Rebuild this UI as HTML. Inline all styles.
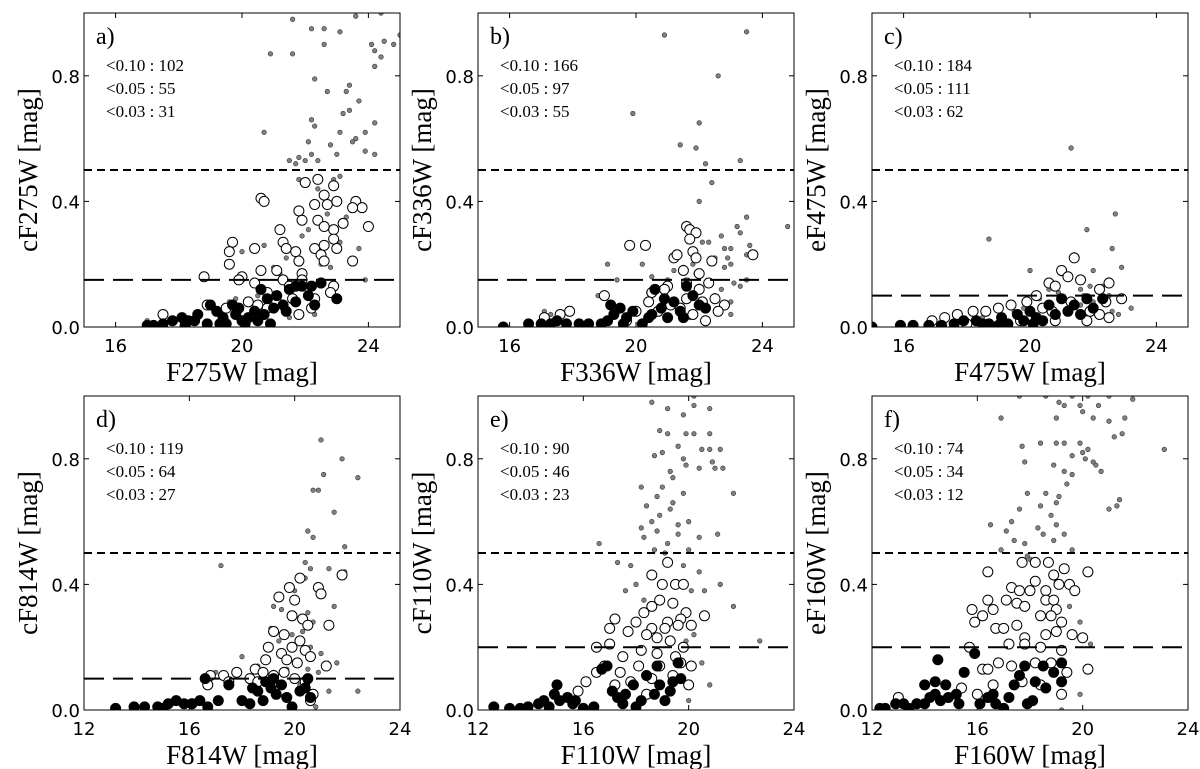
<!DOCTYPE html>
<html><head><meta charset="utf-8"><style>
html,body{margin:0;padding:0;background:#fff}
svg{display:block}
text{font-family:"Liberation Serif",serif;fill:#000}
.tk{font-family:"DejaVu Sans","Liberation Sans",sans-serif;font-size:18px}
.ttl{font-family:"Liberation Serif",serif;font-size:27px}
</style></head><body>
<svg id="fig" width="1200" height="769" viewBox="0 0 1200 769" xmlns="http://www.w3.org/2000/svg"></svg>
<script>
// ---------- data ----------
const panelLetters = ["a)","b)","c)","d)","e)","f)"];
const xLabels = ["F275W [mag]","F336W [mag]","F475W [mag]","F814W [mag]","F110W [mag]","F160W [mag]"];
const yLabels = ["cF275W [mag]","cF336W [mag]","eF475W [mag]","cF814W [mag]","cF110W [mag]","eF160W [mag]"];
const statsA = ["<0.10 : 102","<0.05 : 55","<0.03 : 31"];
const statsB = ["<0.10 : 166","<0.05 : 97","<0.03 : 55"];
const statsC = ["<0.10 : 184","<0.05 : 111","<0.03 : 62"];
const statsD = ["<0.10 : 119","<0.05 : 64","<0.03 : 27"];
const statsE = ["<0.10 : 90","<0.05 : 46","<0.03 : 23"];
const statsF = ["<0.10 : 74","<0.05 : 34","<0.03 : 12"];
const xRangeTop = [15,25];
const xRangeBottom = [12,24];
const yRange = [0,1];
const xTicksTop = [16,20,24];
const xTicksBottom = [12,16,20,24];
const yTicks = [0.0,0.4,0.8];
const upperCut = [0.5,0.5,0.5,0.5,0.5,0.5];
const lowerCut = [0.15,0.15,0.1,0.1,0.2,0.2];

const greyA=[[21.6,.98],[22.2,.95],[22.6,.95],[23.1,.94],[23.6,.99],[24.4,1.0],[25,.93],[24.1,.9],[24.2,.88],[24.5,.91],[24.8,.9],[22.6,.9],[20.9,.87],[21.6,.87],[24.4,.86],[24.2,.83],[22.3,.79],[23.4,.77],[23.3,.75],[22.7,.75],[23.7,.72],[20.7,.62],[22.2,.66],[22.3,.64],[23.2,.68],[23.4,.69],[24.2,.65],[23.9,.62],[22.1,.59],[23.1,.62],[23.6,.6],[23.5,.59],[22.8,.58],[23.9,.56],[24.2,.55],[22.2,.55],[21.5,.53],[21.8,.54],[22.0,.53],[22.4,.53],[23.0,.55],[21.7,.52],[21.8,.47],[22.9,.47],[23.1,.48],[22.4,.44],[22.7,.36],[23.3,.35],[21.9,.29],[22.1,.31],[20.0,.24],[20.7,.26],[21.3,.26],[21.4,.22],[22.3,.25],[23.1,.27],[23.7,.25],[21.8,.2],[22.8,.19],[23.9,.15],[19.8,.09],[19.6,.08],[20.5,.1],[21.2,.17],[22.3,.04],[21.5,.03],[20.6,.05],[17,.02],[22.5,.2],[21.0,.19]];
const openA=[[20.6,.41],[20.7,.4],[21.8,.37],[22.0,.46],[22.4,.47],[22.9,.45],[22.6,.42],[22.7,.39],[23.0,.40],[23.6,.40],[23.8,.38],[22.3,.39],[21.9,.34],[22.4,.34],[22.9,.31],[22.6,.32],[23.2,.33],[23.5,.38],[24.0,.32],[21.2,.31],[19.7,.27],[19.6,.24],[19.6,.2],[20.4,.25],[21.3,.27],[21.4,.25],[21.7,.24],[21.8,.21],[22.3,.25],[22.5,.23],[22.6,.26],[22.9,.28],[23.0,.25],[22.6,.21],[23.5,.21],[21.9,.17],[21.1,.18],[20.6,.18],[20.0,.16],[19.9,.15],[18.8,.16],[17.5,.04],[22.9,.13],[22.8,.11],[22.3,.09],[22.2,.06],[21.8,.04],[20.2,.08],[20.8,.11],[21.3,.15],[21.5,.13],[20.4,.14],[21.9,.15],[22.5,.14],[20.5,.07],[21.1,.08],[19.5,.06],[18.9,.07],[20.8,.06],[21.6,.09]];
const filledA=[[17.0,.005],[17.5,.01],[17.8,.02],[18.1,.03],[18.3,.02],[18.6,.04],[18.9,.01],[19.0,.07],[19.2,.05],[19.4,.03],[19.5,.01],[19.7,.07],[19.8,.04],[20.0,.02],[20.2,.03],[20.4,.05],[20.5,.02],[20.6,.12],[20.8,.09],[21.0,.06],[21.1,.1],[21.3,.07],[21.5,.12],[21.7,.08],[21.9,.13],[22.1,.1],[22.3,.07],[22.5,.14],[23.0,.09],[20.9,.01],[20.1,.01],[18.2,.005],[19.3,.01],[21.7,.13],[22.2,.13],[20.7,.04],[21.4,.05],[18.5,.02],[19.9,.06],[17.2,.005]];

const greyB=[[20.9,.93],[23.5,.94],[22.6,.80],[19.9,.68],[22.0,.65],[21.4,.58],[21.9,.57],[23.3,.53],[22.2,.52],[22.4,.46],[22.0,.40],[23.5,.35],[24.8,.32],[23.2,.32],[21.6,.33],[22.7,.29],[23.3,.30],[22.1,.27],[22.3,.27],[22.8,.25],[23.0,.25],[23.6,.26],[23.5,.23],[22.5,.22],[22.9,.22],[23.0,.2],[21.8,.2],[19.1,.2],[20.2,.2],[21.2,.18],[21.5,.19],[21.9,.17],[22.8,.19],[23.1,.14],[23.5,.15],[23.3,.13],[19.4,.15],[20.5,.16],[20.4,.11],[22.0,.13],[22.5,.1],[23.0,.08],[23.0,.04],[18.8,.1],[20.8,.09],[17.3,.04],[17.1,.05],[21.7,.03],[22.2,.06],[22.7,.12],[21.0,.15]];
const openB=[[19.8,.26],[20.3,.26],[21.2,.22],[21.6,.32],[21.7,.31],[21.9,.30],[21.7,.28],[21.8,.24],[21.3,.23],[21.9,.22],[22.4,.21],[23.7,.23],[21.5,.18],[22.0,.17],[21.0,.13],[20.5,.11],[19.0,.1],[17.9,.05],[17.6,.04],[17.1,.03],[20.9,.12],[21.6,.14],[22.0,.12],[22.3,.14],[22.5,.09],[22.8,.07],[22.6,.05],[21.8,.04],[22.2,.02],[21.4,.06],[21.1,.07],[20.7,.05],[20.0,.05],[19.7,.02],[21.6,.09],[22.1,.08],[20.4,.08]];
const filledB=[[15.8,.0],[16.6,.01],[17.0,.01],[17.3,.01],[17.5,.02],[17.8,.01],[18.2,.01],[18.5,.01],[18.9,.01],[19.1,.02],[19.3,.04],[19.5,.06],[19.7,.03],[19.9,.05],[20.2,.01],[20.4,.03],[20.6,.12],[20.8,.06],[21.0,.03],[21.2,.08],[21.4,.05],[21.6,.13],[21.8,.1],[22.0,.07],[22.2,.06],[20.9,.09],[19.2,.07],[19.6,.01],[20.5,.04],[21.5,.03]];

const greyC=[[21.3,.57],[18.7,.28],[22.7,.36],[21.8,.31],[22.6,.25],[21.4,.23],[22.9,.19],[20.0,.18],[22.0,.18],[21.0,.17],[22.5,.15],[21.9,.13],[22.3,.13],[21.6,.12],[20.6,.12],[20.9,.11],[21.7,.10],[22.5,.1],[23.2,.06],[22.8,.04],[21.6,.07],[22.0,.08],[21.2,.06],[19.8,.06],[19.5,.05],[20.3,.09],[18.5,.03],[22.6,.05]];
const openC=[[21.4,.22],[21.0,.18],[21.2,.16],[20.6,.14],[20.8,.13],[21.6,.15],[22.5,.14],[22.2,.12],[22.9,.09],[22.4,.08],[20.2,.1],[19.9,.08],[19.4,.07],[19.0,.06],[18.6,.05],[18.2,.05],[17.7,.04],[17.3,.03],[16.9,.02],[20.7,.05],[21.3,.08],[22.2,.04],[21.9,.05],[22.5,.03],[20.8,.02],[19.7,.02],[20.4,.06],[21.8,.02],[18.0,.01]];
const filledC=[[15.0,.0],[15.9,.005],[16.3,.005],[16.8,.005],[17.2,.005],[17.6,.01],[17.9,.02],[18.3,.02],[18.7,.01],[19.1,.03],[19.3,.01],[19.6,.04],[19.8,.02],[20.0,.05],[20.2,.03],[20.4,.02],[20.6,.07],[20.8,.04],[21.0,.09],[21.2,.05],[21.4,.07],[21.6,.04],[21.8,.09],[22.0,.06],[22.3,.09],[20.1,.01],[19.0,.005],[18.5,.01]];

const greyD=[[21.0,.86],[21.8,.80],[21.1,.75],[22.4,.74],[20.7,.70],[20.9,.70],[21.5,.63],[20.5,.57],[20.7,.55],[21.9,.52],[20.4,.47],[20.6,.45],[21.3,.45],[21.9,.44],[17.2,.46],[20.4,.42],[20.0,.38],[21.5,.33],[19.2,.33],[19.5,.32],[19.8,.30],[20.5,.31],[20.7,.28],[21.2,.27],[19.1,.26],[19.4,.22],[19.9,.24],[20.3,.25],[20.6,.2],[21.0,.18],[21.6,.15],[18.0,.17],[18.6,.14],[19.2,.12],[19.7,.13],[20.5,.13],[20.9,.12],[20.2,.08],[21.3,.06],[22.4,.06],[20.8,.01],[17.0,.12]];
const openD=[[19.4,.36],[19.8,.39],[20.2,.42],[20.9,.39],[21.0,.37],[21.8,.43],[20.0,.35],[19.9,.3],[20.3,.29],[20.5,.27],[20.2,.22],[19.6,.24],[19.9,.2],[20.4,.19],[21.3,.27],[19.2,.25],[19.0,.2],[19.5,.18],[18.9,.16],[19.7,.16],[20.1,.15],[20.6,.17],[21.2,.14],[18.5,.13],[18.8,.12],[19.2,.11],[17.8,.12],[17.3,.11],[16.8,.11],[16.7,.08],[17.5,.09],[18.3,.1],[19.6,.12],[20.0,.1],[20.4,.09],[20.7,.05],[20.6,.03],[18.6,.09],[16.1,.02]];
const filledD=[[13.2,.005],[13.9,.01],[14.3,.01],[14.8,.01],[15.2,.02],[15.5,.03],[15.8,.02],[16.1,.02],[16.4,.03],[16.7,.01],[17.1,.03],[17.5,.08],[18.0,.03],[18.3,.02],[18.6,.06],[18.8,.03],[18.9,.09],[19.1,.07],[19.3,.05],[19.5,.08],[19.7,.04],[19.9,.01],[20.2,.06],[20.4,.07],[20.5,.1],[20.6,.04],[16.6,.1],[19.2,.1],[18.4,.07],[15.0,.005]];

const greyE=[[18.6,.98],[19.2,.96],[20.2,1.0],[20.2,.97],[20.8,.96],[19.8,.94],[18.9,.89],[19.2,.88],[19.9,.88],[20.2,.88],[20.8,.88],[19.6,.84],[20.5,.83],[20.8,.83],[21.2,.83],[19.0,.82],[18.7,.81],[19.8,.8],[20.9,.79],[19.9,.78],[20.4,.77],[21.0,.77],[21.3,.77],[19.3,.76],[19.4,.74],[18.2,.71],[19.0,.71],[21.7,.69],[19.8,.69],[18.8,.68],[19.4,.66],[18.4,.65],[19.3,.64],[18.9,.62],[18.6,.6],[19.6,.59],[20.0,.6],[18.2,.58],[18.8,.57],[19.6,.56],[21.1,.56],[18.3,.55],[20.4,.55],[19.2,.53],[16.6,.53],[18.7,.51],[20.0,.51],[19.1,.5],[17.3,.47],[17.8,.46],[19.8,.46],[20.4,.44],[21.2,.4],[20.6,.38],[20.1,.38],[21.7,.33],[22.7,.22],[17.6,.38],[18.3,.35],[20.2,.24],[19.9,.22],[18.0,.4],[20.8,.08],[20.5,.15],[20.0,.03]];
const openE=[[19.2,.47],[18.6,.43],[19.0,.4],[19.5,.40],[19.8,.40],[18.9,.35],[18.6,.33],[19.4,.34],[19.9,.31],[18.3,.31],[18.0,.28],[17.2,.29],[20.6,.3],[19.2,.28],[19.7,.29],[18.6,.26],[19.1,.26],[19.6,.27],[20.1,.27],[17.7,.25],[18.4,.24],[18.8,.23],[17.0,.26],[17.0,.21],[19.3,.22],[19.8,.2],[18.2,.19],[16.5,.2],[17.5,.17],[18.8,.18],[19.5,.17],[16.5,.12],[16.8,.14],[17.4,.12],[18.1,.14],[18.9,.14],[19.7,.15],[20.1,.14],[17.2,.08],[17.8,.09],[18.6,.1],[19.4,.11],[20.0,.08],[15.8,.06],[16.1,.09],[18.4,.05]];
const filledE=[[12.6,.01],[13.2,.005],[13.6,.005],[13.9,.01],[14.3,.02],[14.7,.01],[14.9,.05],[15.1,.03],[15.4,.04],[15.6,.02],[16.0,.005],[15.0,.08],[15.7,.03],[16.7,.13],[16.9,.14],[17.1,.06],[17.5,.02],[17.6,.05],[17.9,.08],[18.2,.03],[18.4,.11],[18.7,.05],[18.8,.14],[18.9,.08],[19.1,.03],[19.3,.06],[19.4,.09],[19.6,.15],[19.7,.1],[17.3,.04],[18.0,.01],[16.4,.01],[14.5,.03]];

const greyF=[[17.6,1.0],[18.6,1.0],[19.6,1.0],[20.2,1.0],[21.0,1.0],[21.9,.99],[19.1,.98],[19.3,.97],[19.9,.97],[20.6,.97],[20.0,.95],[16.9,.93],[19.0,.93],[20.4,.93],[21.0,.92],[21.6,.93],[21.5,.88],[21.2,.87],[23.1,.83],[17.7,.84],[18.4,.85],[19.0,.85],[19.3,.85],[19.9,.85],[20.0,.82],[20.2,.83],[19.6,.81],[20.1,.8],[17.8,.79],[18.9,.78],[20.4,.79],[20.7,.76],[19.3,.76],[19.6,.75],[20.5,.78],[19.4,.72],[17.9,.69],[18.6,.69],[19.1,.68],[19.0,.66],[21.4,.67],[21.0,.64],[21.3,.65],[17.6,.64],[18.4,.65],[18.8,.62],[16.5,.59],[17.3,.6],[17.1,.57],[18.3,.58],[19.0,.59],[19.3,.56],[17.8,.53],[18.5,.56],[18.9,.54],[17.4,.54],[16.9,.51],[19.6,.51],[17.9,.49],[18.0,.48],[18.8,.43],[19.0,.41],[19.5,.33],[19.9,.28],[20.3,.21],[19.9,.05],[19.2,.0]];
const openF=[[16.4,.44],[17.7,.47],[18.2,.47],[18.7,.47],[19.3,.45],[20.2,.44],[18.9,.43],[18.2,.41],[19.1,.4],[19.5,.4],[19.7,.38],[17.3,.39],[17.6,.38],[18.0,.38],[18.6,.38],[16.4,.35],[17.1,.35],[17.5,.34],[17.8,.33],[18.6,.35],[18.9,.35],[19.0,.32],[18.4,.3],[18.8,.3],[19.2,.28],[15.8,.32],[15.9,.28],[16.2,.3],[16.6,.32],[16.7,.26],[17.0,.26],[17.5,.27],[17.8,.23],[18.6,.24],[19.0,.25],[19.6,.24],[20.0,.23],[15.7,.2],[16.2,.13],[17.2,.21],[17.8,.21],[18.4,.2],[19.2,.19],[16.4,.13],[16.8,.15],[17.3,.14],[18.2,.15],[18.8,.15],[19.4,.12],[20.2,.13],[16.0,.05],[16.6,.08],[17.7,.09],[18.4,.08],[19.2,.05],[15.4,.07],[13.0,.04]];
const filledF=[[12.3,.005],[12.5,.005],[12.9,.02],[13.2,.02],[13.4,.005],[13.7,.02],[14.0,.02],[14.2,.04],[14.4,.09],[14.4,.05],[14.6,.03],[14.8,.08],[14.9,.04],[15.2,.05],[15.3,.02],[14.0,.08],[14.5,.16],[15.5,.12],[15.9,.18],[16.1,.02],[16.4,.04],[16.6,.05],[16.7,.02],[17.0,.005],[17.2,.04],[17.4,.08],[17.6,.11],[17.8,.14],[17.9,.02],[18.1,.03],[18.2,.09],[18.5,.14],[18.6,.07],[18.9,.12],[19.2,.15],[19.2,.09]];

// ---------- drawing ----------
const NS = "http://www.w3.org/2000/svg";
const svg = document.getElementById("fig");
function mk(tag, attrs, parent){
  const e = document.createElementNS(NS, tag);
  for (const k in attrs) e.setAttribute(k, attrs[k]);
  (parent||svg).appendChild(e);
  return e;
}
const stats = [statsA,statsB,statsC,statsD,statsE,statsF];
const greys = [greyA,greyB,greyC,greyD,greyE,greyF];
const opens = [openA,openB,openC,openD,openE,openF];
const filleds = [filledA,filledB,filledC,filledD,filledE,filledF];
const colLeft = [84,478,872];
const rowTop = [13,396];
const W = 316, H = 314;

for (let p=0;p<6;p++){
  const r = Math.floor(p/3), c = p%3;
  const L = colLeft[c], T = rowTop[r], R = L+W, B = T+H;
  const xr = r===0 ? xRangeTop : xRangeBottom;
  const xt = r===0 ? xTicksTop : xTicksBottom;
  const X = v => L + (v - xr[0])/(xr[1]-xr[0])*W;
  const Y = v => B - (v - yRange[0])/(yRange[1]-yRange[0])*H;

  const g = mk("g",{});
  
  
  const cid = "clip"+p;
  const cp = mk("clipPath",{id:cid}, g);
  mk("rect",{x:L,y:T,width:W,height:H},cp);

  const pts = mk("g",{"clip-path":"url(#"+cid+")"}, g);
  
  

  greys[p].forEach(d=>{
    const e = mk("circle",{cx:X(d[0]),cy:Y(d[1]),r:2.3,fill:"#808080",stroke:"#333","stroke-width":0.6},pts);
    
    
  });
  opens[p].forEach(d=>{
    const e = mk("circle",{cx:X(d[0]),cy:Y(d[1]),r:5,fill:"#fff",stroke:"#000","stroke-width":1},pts);
    
    
  });
  filleds[p].forEach(d=>{
    const e = mk("circle",{cx:X(d[0]),cy:Y(d[1]),r:5,fill:"#000",stroke:"#000","stroke-width":1},pts);
    
    
  });

  const h1 = mk("line",{x1:L,x2:R,y1:Y(upperCut[p]),y2:Y(upperCut[p]),stroke:"#000","stroke-width":2,"stroke-dasharray":"8,5"},g);
  
  
  const h2 = mk("line",{x1:L,x2:R,y1:Y(lowerCut[p]),y2:Y(lowerCut[p]),stroke:"#000","stroke-width":2,"stroke-dasharray":"20,9"},g);
  
  

  const fr = mk("rect",{x:L,y:T,width:W,height:H,fill:"none",stroke:"#000","stroke-width":1},g);
  
  

  xt.forEach(v=>{
    const x = X(v);
    mk("line",{x1:x,x2:x,y1:B,y2:B-5,stroke:"#000"},g);
    mk("line",{x1:x,x2:x,y1:T,y2:T+5,stroke:"#000"},g);
    const t = mk("text",{x:x,y:B+25,"text-anchor":"middle",class:"tk"},g);
    t.textContent = String(v);
    
    
  });
  yTicks.forEach(v=>{
    const y = Y(v);
    mk("line",{x1:L,x2:L+5,y1:y,y2:y,stroke:"#000"},g);
    mk("line",{x1:R,x2:R-5,y1:y,y2:y,stroke:"#000"},g);
    const t = mk("text",{x:L-4,y:y+7,"text-anchor":"end",class:"tk"},g);
    t.textContent = v.toFixed(1);
    
    
  });

  const xl = mk("text",{x:L+W/2,y:B+54,"text-anchor":"middle",class:"ttl","font-family":"Liberation Serif, serif"},g);
  xl.textContent = xLabels[p];
  
  
  const yx = L-47, yy = T+H/2;
  const yl = mk("text",{x:yx,y:yy,"text-anchor":"middle",class:"ttl","font-family":"Liberation Serif, serif",transform:"rotate(-90 "+yx+" "+yy+")"},g);
  yl.textContent = yLabels[p];
  
  

  const pl = mk("text",{x:L+12,y:T+31,"font-size":24},g);
  pl.textContent = panelLetters[p];
  
  

  stats[p].forEach((s,i)=>{
    const t = mk("text",{x:L+22,y:T+58+i*23,"font-size":17},g);
    t.textContent = s;
    
    
  });
}
</script>
</body></html>
